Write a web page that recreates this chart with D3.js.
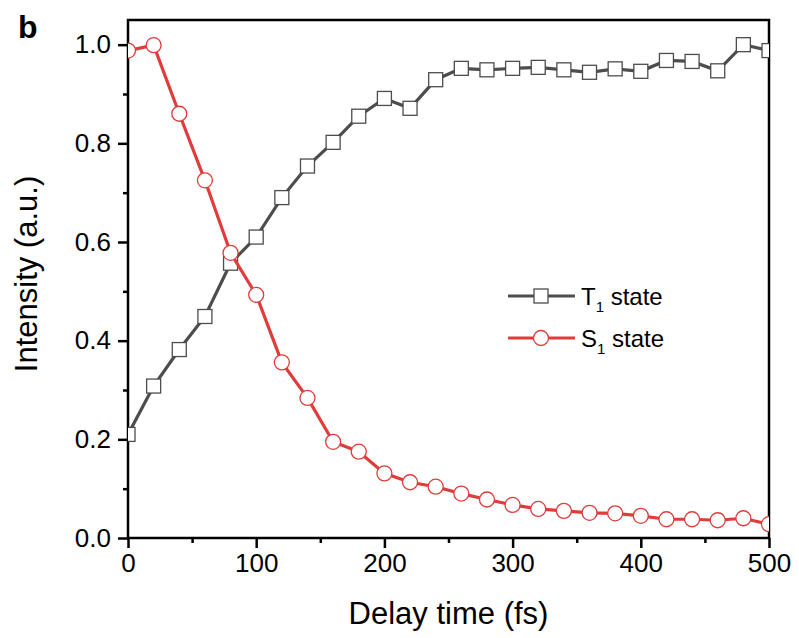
<!DOCTYPE html>
<html>
<head>
<meta charset="utf-8">
<script src="https://cdn.jsdelivr.net/npm/d3@7"></script>
<style>
	body { margin: 0; background: #fff; }
	svg { font-family: "Liberation Sans", Arial, sans-serif; }
</style>
</head>
<body>
<svg width="799" height="638"></svg>
<script>
// delay times (fs)
const delays = d3.range(0, 501, 20);
// T1 state intensity
const t1Values = [0.21, 0.308, 0.382, 0.449, 0.557, 0.61, 0.69, 0.754, 0.802, 0.855,
	0.891, 0.871, 0.929, 0.952, 0.949, 0.952, 0.954, 0.949, 0.944, 0.951,
	0.946, 0.968, 0.966, 0.947, 1.0, 0.988];
// S1 state intensity
const s1Values = [0.988, 0.999, 0.86, 0.725, 0.578, 0.493, 0.356, 0.284, 0.195, 0.175,
	0.131, 0.113, 0.104, 0.09, 0.078, 0.067, 0.059, 0.055, 0.051, 0.05,
	0.045, 0.038, 0.038, 0.036, 0.04, 0.028];
const xTicks = [0, 100, 200, 300, 400, 500];
const yTicks = [0, 0.2, 0.4, 0.6, 0.8, 1.0];

const svg = d3.select("svg");
const box = { left: 128, right: 769, top: 20, bottom: 538 };

const x = d3.scaleLinear().domain([0, 500]).range([box.left, box.right]);
const y = d3.scaleLinear().domain([0, 1.05]).range([box.bottom, box.top]);

svg.append("defs").append("clipPath").attr("id", "clip")
	.append("rect")
	.attr("x", box.left).attr("y", box.top)
	.attr("width", box.right - box.left).attr("height", box.bottom - box.top);

// minor ticks
svg.append("g")
	.attr("transform", `translate(0,${box.bottom})`)
	.call(d3.axisBottom(x).tickValues(d3.range(50, 500, 100)).tickSize(5).tickFormat(""))
	.call(g => g.select(".domain").remove())
	.selectAll("line").attr("stroke-width", 2.5);
svg.append("g")
	.attr("transform", `translate(${box.left},0)`)
	.call(d3.axisLeft(y).tickValues(d3.range(0.1, 1.0, 0.2)).tickSize(5).tickFormat(""))
	.call(g => g.select(".domain").remove())
	.selectAll("line").attr("stroke-width", 2.5);

// major ticks + labels
const xAxis = svg.append("g")
	.attr("transform", `translate(0,${box.bottom})`)
	.call(d3.axisBottom(x).tickValues(xTicks).tickSize(10).tickPadding(6).tickFormat(d3.format("d")));
xAxis.select(".domain").remove();
xAxis.selectAll("line").attr("stroke-width", 2.5);
xAxis.selectAll("text").attr("font-size", 26).attr("fill", "#000");

const yAxis = svg.append("g")
	.attr("transform", `translate(${box.left},0)`)
	.call(d3.axisLeft(y).tickValues(yTicks).tickSize(10).tickPadding(7).tickFormat(d3.format(".1f")));
yAxis.select(".domain").remove();
yAxis.selectAll("line").attr("stroke-width", 2.5);
yAxis.selectAll("text").attr("font-size", 26).attr("fill", "#000");

// frame
svg.append("rect")
	.attr("x", box.left).attr("y", box.top)
	.attr("width", box.right - box.left).attr("height", box.bottom - box.top)
	.attr("fill", "none").attr("stroke", "#000").attr("stroke-width", 2.5);

const series = [
	{ name: "T", sub: "1", values: t1Values, color: "#4d4d4d", shape: "square" },
	{ name: "S", sub: "1", values: s1Values, color: "#e03c3c", shape: "circle" }
];

const plot = svg.append("g").attr("clip-path", "url(#clip)");
const line = d3.line().x((d, i) => x(delays[i])).y(d => y(d));

function drawMarker(sel, s) {
	if (s.shape === "square") {
		sel.append("rect")
			.attr("x", -7).attr("y", -7).attr("width", 14).attr("height", 14)
			.attr("fill", "#fff").attr("stroke", s.color).attr("stroke-width", 1.3);
	} else {
		sel.append("circle")
			.attr("r", 7.5)
			.attr("fill", "#fff").attr("stroke", s.color).attr("stroke-width", 1.3);
	}
}

series.forEach(s => {
	plot.append("path")
		.datum(s.values)
		.attr("d", line)
		.attr("fill", "none")
		.attr("stroke", s.color)
		.attr("stroke-width", 3.2);
	plot.append("g").selectAll("g")
		.data(s.values)
		.join("g")
		.attr("transform", (d, i) => `translate(${x(delays[i])},${y(d)})`)
		.each(function () { drawMarker(d3.select(this), s); });
});

// legend
const legend = svg.append("g");
series.forEach((s, i) => {
	const ly = 296 + i * 42;
	legend.append("line")
		.attr("x1", 508).attr("x2", 575).attr("y1", ly).attr("y2", ly)
		.attr("stroke", s.color).attr("stroke-width", 3.2);
	drawMarker(legend.append("g").attr("transform", `translate(541,${ly})`), s);
	const t = legend.append("text")
		.attr("x", 581).attr("y", ly + 9)
		.attr("font-size", 24);
	t.append("tspan").text(s.name);
	t.append("tspan").attr("font-size", 15).attr("dy", 7).text(s.sub);
	t.append("tspan").attr("dy", -7).text(" state");
});

// axis titles
svg.append("text")
	.attr("x", (box.left + box.right) / 2).attr("y", 624)
	.attr("text-anchor", "middle").attr("font-size", 31)
	.text("Delay time (fs)");
svg.append("text")
	.attr("transform", `translate(37,274) rotate(-90)`)
	.attr("text-anchor", "middle").attr("font-size", 31)
	.text("Intensity (a.u.)");

svg.append("text")
	.attr("x", 18).attr("y", 38)
	.attr("font-size", 32).attr("font-weight", "bold")
	.text("b");
</script>
</body>
</html>
